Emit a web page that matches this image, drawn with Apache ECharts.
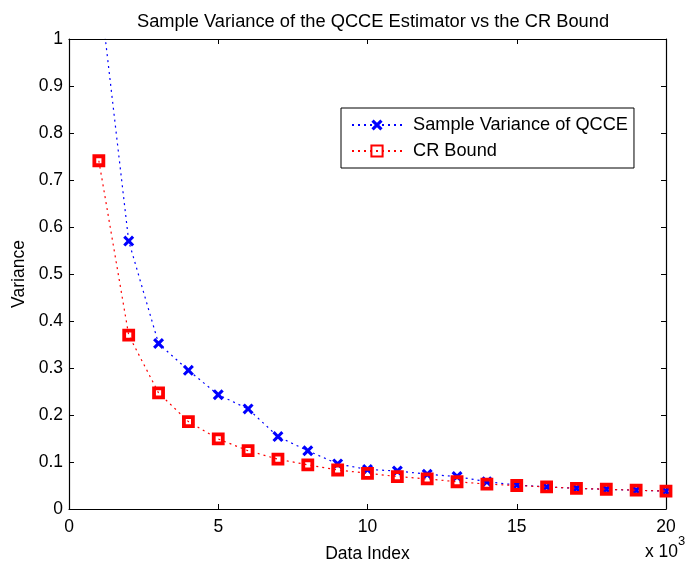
<!DOCTYPE html>
<html>
<head>
<meta charset="utf-8">
<script src="https://cdn.jsdelivr.net/npm/echarts@6/dist/echarts.min.js"></script>
<style>
  html, body { margin: 0; padding: 0; background: #fff; }
  #chart { width: 691px; height: 567px; }
</style>
</head>
<body>
<div id="chart"></div>
<script>
// Data index (x axis, shown in thousands)
const dataIndex = [1000, 2000, 3000, 4000, 5000, 6000, 7000, 8000, 9000, 10000,
  11000, 12000, 13000, 14000, 15000, 16000, 17000, 18000, 19000, 20000];

// Sample variance of QCCE (first point is above the axis top and gets clipped)
const sampleVariance = [1.12, 0.570, 0.352, 0.295, 0.243, 0.213, 0.154, 0.124, 0.096, 0.084,
  0.081, 0.074, 0.069, 0.058, 0.051, 0.047, 0.044, 0.042, 0.040, 0.038];

// Cramer-Rao bound
const crBound = [0.741, 0.370, 0.247, 0.186, 0.149, 0.124, 0.106, 0.094, 0.083, 0.076,
  0.069, 0.064, 0.058, 0.053, 0.050, 0.047, 0.044, 0.042, 0.040, 0.038];

const seriesNames = ['Sample Variance of QCCE', 'CR Bound'];

const FONT = 'Liberation Sans, Arial, Helvetica, sans-serif';
const X_MARK = 'path://M2,0 L5,3 L8,0 L10,2 L7,5 L10,8 L8,10 L5,7 L2,10 L0,8 L3,5 L0,2 Z';

const pairs = (ys) => dataIndex.map((x, i) => [x, ys[i]]);

const chart = echarts.init(document.getElementById('chart'), null, { renderer: 'canvas' });

const axisLine = { show: true, onZero: false, lineStyle: { color: '#000', width: 1.2 } };
const tickIn = { show: true, inside: true, length: 5, lineStyle: { color: '#000', width: 1 } };

chart.setOption({
  backgroundColor: '#fff',
  animation: false,
  textStyle: { fontFamily: FONT },
  title: {
    text: 'Sample Variance of the QCCE Estimator vs the CR Bound',
    left: 368,
    textAlign: 'center',
    top: 8,
    textStyle: { fontFamily: FONT, fontSize: 18.3, fontWeight: 'normal', color: '#000' },
  },
  grid: { left: 69, right: 25, top: 39, bottom: 58, containLabel: false, outerBoundsMode: 'none' },
  legend: {
    orient: 'vertical',
    left: 341,
    top: 108,
    width: 295,
    padding: [8, 6, 8, 10],
    itemGap: 8,
    itemWidth: 50,
    itemHeight: 14,
    borderColor: '#000',
    borderWidth: 1,
    backgroundColor: '#fff',
    data: seriesNames,
    textStyle: { fontFamily: FONT, fontSize: 18.2, color: '#000', padding: [0, 0, 0, 6] },
  },
  xAxis: [
    {
      type: 'value',
      min: 0,
      max: 20000,
      interval: 5000,
      axisLine: axisLine,
      axisTick: tickIn,
      splitLine: { show: false },
      axisLabel: {
        color: '#000', fontSize: 17.5, fontFamily: FONT, margin: 9,
        formatter: (v) => String(v / 1000),
      },
      name: 'Data Index',
      nameLocation: 'middle',
      nameGap: 36,
      nameTextStyle: { color: '#000', fontSize: 17.5, fontFamily: FONT },
    },
    {
      type: 'value',
      position: 'top',
      min: 0,
      max: 20000,
      interval: 5000,
      axisLine: axisLine,
      axisTick: tickIn,
      axisLabel: { show: false },
      splitLine: { show: false },
    },
  ],
  yAxis: [
    {
      type: 'value',
      min: 0,
      max: 1,
      interval: 0.1,
      axisLine: axisLine,
      axisTick: tickIn,
      splitLine: { show: false },
      axisLabel: { color: '#000', fontSize: 17.5, fontFamily: FONT, margin: 6 },
      name: 'Variance',
      nameLocation: 'middle',
      nameGap: 41,
      nameTextStyle: { color: '#000', fontSize: 17.5, fontFamily: FONT },
    },
    {
      type: 'value',
      position: 'right',
      min: 0,
      max: 1,
      interval: 0.1,
      axisLine: axisLine,
      axisTick: tickIn,
      axisLabel: { show: false },
      splitLine: { show: false },
    },
  ],
  series: [
    {
      name: seriesNames[0],
      type: 'line',
      data: pairs(sampleVariance),
      clip: true,
      symbol: X_MARK,
      symbolSize: 11,
      showAllSymbol: true,
      lineStyle: { color: '#0000ff', width: 1.2, type: [2, 4] },
      itemStyle: { color: '#0000ff' },
      z: 2,
    },
    {
      name: seriesNames[1],
      type: 'line',
      data: pairs(crBound),
      clip: true,
      symbol: 'rect',
      symbolSize: 9,
      showAllSymbol: true,
      lineStyle: { color: '#ff0000', width: 1.2, type: [2, 4] },
      itemStyle: { color: 'rgba(255,255,255,0)', borderColor: '#ff0000', borderWidth: 3.8 },
      z: 3,
    },
  ],
  graphic: [
    {
      type: 'text',
      left: 645,
      top: 543,
      style: { text: 'x 10', font: '17.5px ' + FONT, fill: '#000' },
    },
    {
      type: 'text',
      left: 678,
      top: 535,
      style: { text: '3', font: '13px ' + FONT, fill: '#000' },
    },
  ],
});
</script>
</body>
</html>
